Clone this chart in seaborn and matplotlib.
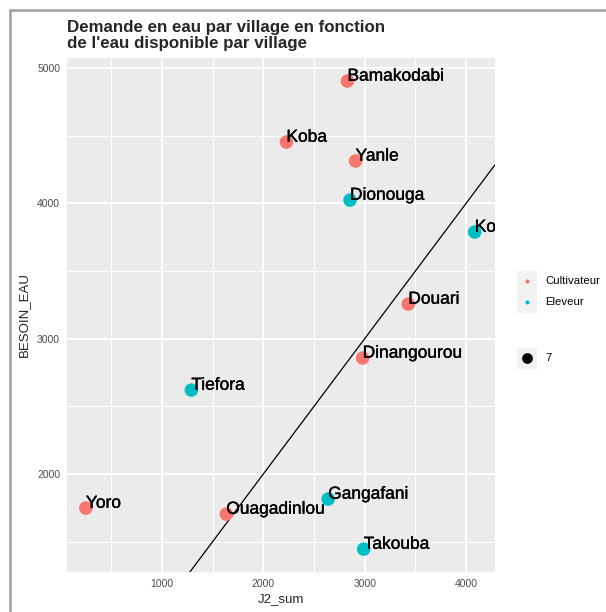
import matplotlib
matplotlib.use("Agg")
import matplotlib.pyplot as plt
import matplotlib.transforms as mtransforms
import matplotlib.patheffects as pe
from matplotlib.lines import Line2D
from matplotlib.patches import Rectangle
import pandas as pd
import seaborn as sns

# ----------------------------
# Data
# ----------------------------
villages = ["Bamakodabi", "Koba", "Yanle", "Dionouga", "Koumbia", "Douari",
            "Dinangourou", "Tiefora", "Yoro", "Ouagadinlou", "Gangafani", "Takouba"]
j2_sum = [2830, 2228, 2910, 2855, 4085, 3430, 2980, 1290, 250, 1635, 2640, 2990]
besoin_eau = [4904, 4453, 4313, 4024, 3788, 3256, 2857, 2620, 1748, 1704, 1815, 1445]
activite = ["Cultivateur", "Cultivateur", "Cultivateur", "Eleveur", "Eleveur", "Cultivateur",
            "Cultivateur", "Eleveur", "Cultivateur", "Cultivateur", "Eleveur", "Eleveur"]
categories = ["Cultivateur", "Eleveur"]
colors = ["#F8766D", "#00BFC4"]
size_label = "7"

x_ticks = [1000, 2000, 3000, 4000]
y_ticks = [2000, 3000, 4000, 5000]

df = pd.DataFrame({"village": villages, "J2_sum": j2_sum,
                   "BESOIN_EAU": besoin_eau, "activite": activite})

sns.set_style("white")
plt.rcParams["font.family"] = ["Liberation Sans", "DejaVu Sans"]

fig = plt.figure(figsize=(6.06, 6.12), dpi=100)
ax = fig.add_axes([0.1106, 0.0654, 0.7062, 0.8398])

# ggplot-like panel
ax.set_facecolor("#EBEBEB")
for s in ax.spines.values():
    s.set_visible(False)
ax.set_xlim(64, 4285)
ax.set_ylim(1276, 5074)
ax.set_xticks(x_ticks)
ax.set_yticks(y_ticks)
ax.set_xticks([500, 1500, 2500, 3500], minor=True)
ax.set_yticks([1500, 2500, 3500, 4500], minor=True)
ax.grid(which="major", color="white", linewidth=1.3)
ax.grid(which="minor", color="white", linewidth=0.7)
ax.set_axisbelow(True)
ax.tick_params(which="major", length=3, width=0.8, color="#333333",
               labelsize=7.5, labelcolor="#4D4D4D", pad=2)
ax.tick_params(which="minor", length=0)

# reference line y = x
ax.axline((0, 0), slope=1, color="black", linewidth=0.9, zorder=2)

sns.scatterplot(data=df, x="J2_sum", y="BESOIN_EAU", hue="activite",
                hue_order=categories, palette=colors, s=95, linewidth=0,
                legend=False, ax=ax, zorder=3)

offset = mtransforms.offset_copy(ax.transData, fig=fig, x=0, y=3.5, units="points")
for name, xv, yv in zip(villages, j2_sum, besoin_eau):
    ax.text(xv, yv, name, transform=offset, ha="left", va="center",
            fontsize=12.5, color="black", clip_on=True, zorder=4,
            path_effects=[pe.withStroke(linewidth=0.25, foreground="black")])

ax.set_xlabel("J2_sum", fontsize=9.5, labelpad=3)
ax.set_ylabel("BESOIN_EAU", fontsize=9.5, labelpad=5)

fig.text(0.1106, 0.942, "Demande en eau par village en fonction\nde l'eau disponible par village",
         fontsize=12.2, fontweight="bold", ha="left", va="center", linespacing=1.02)

# ----------------------------
# Legend drawn in its own axes (pixel units, y pointing down)
# ----------------------------
lax = fig.add_axes([0.0, 0.0, 1.0, 1.0], zorder=-1)
lax.set_xlim(0, 606)
lax.set_ylim(612, 0)
lax.axis("off")
key_y = [281, 302]
for cat, col, ky in zip(categories, colors, key_y):
    lax.add_patch(Rectangle((517, ky - 10), 20, 20.5, color="#F2F2F2", lw=0))
    lax.scatter([527], [ky], s=9, color=col, lw=0)
    lax.text(545, ky, cat, fontsize=8.2, va="center", ha="left", color="black")
lax.add_patch(Rectangle((517, 348), 20, 21, color="#F2F2F2", lw=0))
lax.scatter([527], [358], s=60, color="black", lw=0)
lax.text(545, 358, size_label, fontsize=8.2, va="center", ha="left", color="black")

# screenshot frame
fig.add_artist(Line2D([0.0165, 1], [0.983, 0.983], color="#A8A8A8", lw=2))
fig.add_artist(Line2D([0.0165, 0.0165], [0, 0.983], color="#A8A8A8", lw=2))

fig.savefig("out.png", dpi=100)
